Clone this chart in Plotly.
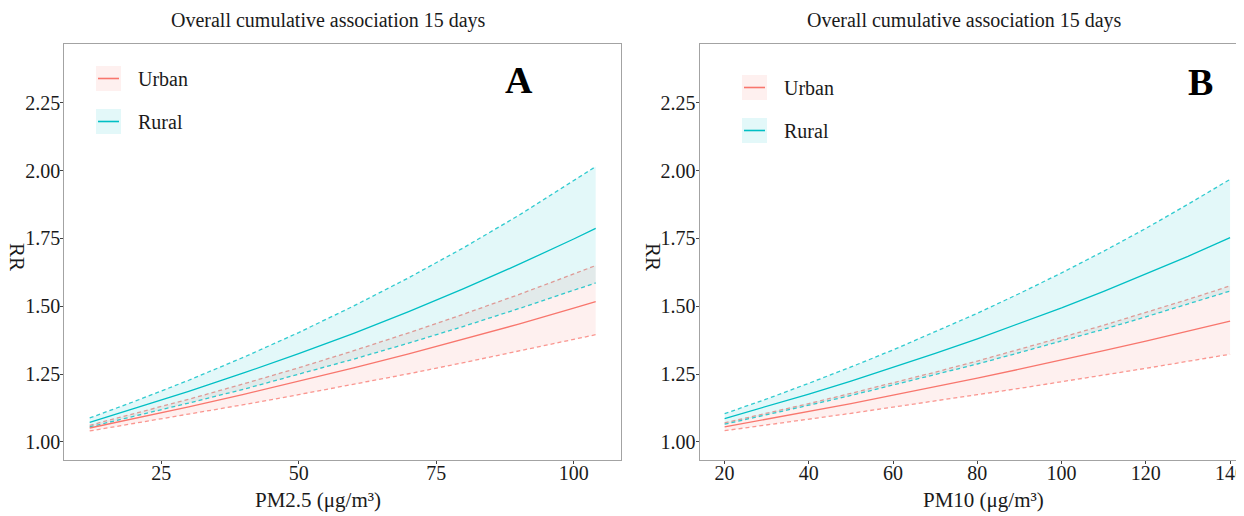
import plotly.graph_objects as go

# ---------------- data ----------------
pm25_x = [12, 20, 30, 40, 50, 60, 70, 80, 90, 100, 104]
pm25_urban_rr = [1.051, 1.085, 1.129, 1.175, 1.223, 1.273, 1.324, 1.378, 1.434, 1.493, 1.517]
pm25_urban_hi = [1.061, 1.103, 1.157, 1.214, 1.273, 1.336, 1.402, 1.471, 1.543, 1.619, 1.650]
pm25_urban_lo = [1.040, 1.067, 1.102, 1.137, 1.174, 1.212, 1.251, 1.292, 1.334, 1.377, 1.395]
pm25_rural_rr = [1.072, 1.122, 1.186, 1.254, 1.325, 1.400, 1.480, 1.565, 1.654, 1.748, 1.787]
pm25_rural_hi = [1.088, 1.148, 1.227, 1.312, 1.403, 1.501, 1.605, 1.716, 1.835, 1.962, 2.015]
pm25_rural_lo = [1.055, 1.093, 1.143, 1.194, 1.249, 1.305, 1.364, 1.426, 1.491, 1.558, 1.586]

pm10_x = [20, 30, 40, 50, 60, 70, 80, 90, 100, 110, 120, 130, 140]
pm10_urban_rr = [1.055, 1.083, 1.112, 1.141, 1.172, 1.203, 1.235, 1.268, 1.301, 1.336, 1.371, 1.408, 1.445]
pm10_urban_hi = [1.070, 1.105, 1.141, 1.179, 1.217, 1.257, 1.298, 1.341, 1.385, 1.430, 1.477, 1.525, 1.575]
pm10_urban_lo = [1.041, 1.062, 1.083, 1.105, 1.128, 1.150, 1.174, 1.197, 1.221, 1.246, 1.271, 1.297, 1.323]
pm10_rural_rr = [1.086, 1.130, 1.176, 1.224, 1.274, 1.326, 1.380, 1.436, 1.494, 1.555, 1.619, 1.684, 1.753]
pm10_rural_hi = [1.104, 1.158, 1.216, 1.276, 1.339, 1.405, 1.474, 1.547, 1.623, 1.703, 1.787, 1.876, 1.968]
pm10_rural_lo = [1.065, 1.099, 1.135, 1.171, 1.209, 1.247, 1.287, 1.329, 1.371, 1.415, 1.461, 1.508, 1.556]

groups = ["Urban", "Rural"]
panel_titles = ["Overall cumulative association 15 days", "Overall cumulative association 15 days"]
x_titles = ["PM2.5 (μg/m³)", "PM10 (μg/m³)"]
panel_tags = ["A", "B"]
y_ticks = [1.00, 1.25, 1.50, 1.75, 2.00, 2.25]
x_ticks_a = [25, 50, 75, 100]
x_ticks_b = [20, 40, 60, 80, 100, 120, 140]

# ---------------- style ----------------
OFF = 8  # page body margin of the html page
W, H = 1244 - OFF, 516 - OFF
FONT = "Liberation Serif"
COL = {"Urban": "#F8766D", "Rural": "#00BFC4"}
FILL = {"Urban": "rgba(248,118,109,0.11)", "Rural": "rgba(0,191,196,0.11)"}
DASHC = {"Urban": "rgba(248,118,109,0.75)", "Rural": "rgba(0,191,196,0.8)"}
FRAME = "#a3a3a3"
TXT = "#1a1a1a"


def px(x):
    return (x - OFF) / W


def py(y):
    return 1 - (y - OFF) / H


fig = go.Figure()

panels = [
    ("x", "y", pm25_x, {"Urban": (pm25_urban_lo, pm25_urban_hi, pm25_urban_rr),
                        "Rural": (pm25_rural_lo, pm25_rural_hi, pm25_rural_rr)}),
    ("x2", "y2", pm10_x, {"Urban": (pm10_urban_lo, pm10_urban_hi, pm10_urban_rr),
                          "Rural": (pm10_rural_lo, pm10_rural_hi, pm10_rural_rr)}),
]

for xa, ya, xs, data in panels:
    for g in groups:
        lo, hi, rr = data[g]
        fig.add_trace(go.Scatter(x=xs, y=lo, xaxis=xa, yaxis=ya, mode="lines",
                                 line=dict(color=DASHC[g], width=1.3, dash="4px,3px"),
                                 showlegend=False, hoverinfo="skip"))
        fig.add_trace(go.Scatter(x=xs, y=hi, xaxis=xa, yaxis=ya, mode="lines",
                                 line=dict(color=DASHC[g], width=1.3, dash="4px,3px"),
                                 fill="tonexty", fillcolor=FILL[g],
                                 showlegend=False, hoverinfo="skip"))
    for g in groups:
        lo, hi, rr = data[g]
        fig.add_trace(go.Scatter(x=xs, y=rr, xaxis=xa, yaxis=ya, mode="lines",
                                 line=dict(color=COL[g], width=1.3),
                                 name=g, showlegend=False))

axis_common = dict(showgrid=False, zeroline=False, showline=True, linecolor=FRAME,
                   linewidth=1.2, ticks="outside", ticklen=3, tickwidth=1,
                   tickcolor="#444", tickfont=dict(family=FONT, size=20, color=TXT),
                   ticklabeloverflow="allow")

fig.update_layout(
    width=W, height=H, margin=dict(l=0, r=0, t=0, b=0),
    paper_bgcolor="white", plot_bgcolor="white", showlegend=False,
    xaxis=dict(domain=[px(64.4), px(621)], range=[7.4, 108.6], tickvals=x_ticks_a,
               mirror=True, anchor="y", ticklabelstandoff=-8, **axis_common),
    yaxis=dict(domain=[py(460), py(44)], range=[0.933, 2.467], tickvals=y_ticks,
               tickformat=".2f", mirror=True, anchor="x", ticklabelstandoff=-4, **axis_common),
    xaxis2=dict(domain=[px(699.6), 1.0], range=[14.06, 143.3], tickvals=x_ticks_b,
                mirror=True, anchor="y2", ticklabelstandoff=-8, **axis_common),
    yaxis2=dict(domain=[py(460), py(44)], range=[0.933, 2.467], tickvals=y_ticks,
                tickformat=".2f", mirror=False, anchor="x2", ticklabelstandoff=-4, **axis_common),
)

ann = []
shapes = []
# titles
for cx, t in zip([328, 964], panel_titles):
    ann.append(dict(x=px(cx), y=py(21), xref="paper", yref="paper", text=t, showarrow=False,
                    font=dict(family=FONT, size=20, color=TXT), xanchor="center", yanchor="middle"))
for cx, t in zip([318, 984], x_titles):
    ann.append(dict(x=px(cx), y=py(500), xref="paper", yref="paper", text=t, showarrow=False,
                    font=dict(family=FONT, size=21, color=TXT), xanchor="center", yanchor="middle"))
for cx in [17, 653]:
    ann.append(dict(x=px(cx), y=py(257), xref="paper", yref="paper", text="RR", showarrow=False,
                    textangle=90, font=dict(family=FONT, size=21, color=TXT),
                    xanchor="center", yanchor="middle"))
for (cx, cy), t in zip([(519, 80), (1200, 82)], panel_tags):
    ann.append(dict(x=px(cx), y=py(cy), xref="paper", yref="paper", text="<b>%s</b>" % t,
                    showarrow=False, font=dict(family=FONT, size=38, color="black"),
                    xanchor="center", yanchor="middle"))

# legends (key boxes drawn as shapes)
legend_pos = [(96, [66, 109]), (742, [75, 118])]
for kx, kys in legend_pos:
    for g, ky in zip(groups, kys):
        shapes.append(dict(type="rect", xref="paper", yref="paper", x0=px(kx), x1=px(kx + 25),
                           y0=py(ky + 25), y1=py(ky), fillcolor=FILL[g], line=dict(width=0)))
        shapes.append(dict(type="line", xref="paper", yref="paper", x0=px(kx + 2), x1=px(kx + 23),
                           y0=py(ky + 12.5), y1=py(ky + 12.5), line=dict(color=COL[g], width=1.6)))
        ann.append(dict(x=px(kx + 40), y=py(ky + 13), xref="paper", yref="paper", text=g,
                        showarrow=False, font=dict(family=FONT, size=20, color=TXT),
                        xanchor="left", yanchor="middle"))

fig.update_layout(annotations=ann, shapes=shapes)
fig.write_html("out.html")
